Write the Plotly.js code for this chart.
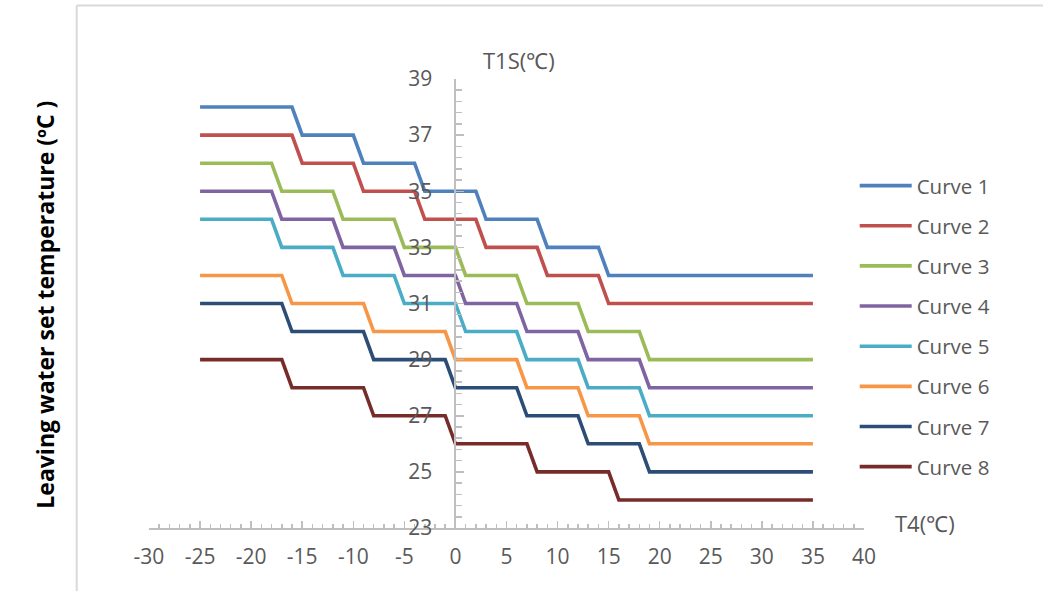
<!DOCTYPE html>
<html>
<head>
<meta charset="utf-8">
<script src="https://cdn.plot.ly/plotly-3.0.1.min.js"></script>
<style>html,body{margin:0;padding:0;background:#fff;}#chart{width:1043px;height:591px;}</style>
</head>
<body>
<div id="chart"></div>
<script>
// ---- data ----
const curveNames = ["Curve 1","Curve 2","Curve 3","Curve 4","Curve 5","Curve 6","Curve 7","Curve 8"];
const curveColors = ["#4F81BD","#C0504D","#9BBB59","#8064A2","#4BACC6","#F79646","#2C4D75","#772C2A"];

const x1 = [-25,-16,-15,-10,-9,-4,-3,2,3,8,9,14,15,35];
const y1 = [38,38,37,37,36,36,35,35,34,34,33,33,32,32];
const x2 = [-25,-16,-15,-10,-9,-4,-3,2,3,8,9,14,15,35];
const y2 = [37,37,36,36,35,35,34,34,33,33,32,32,31,31];
const x3 = [-25,-18,-17,-12,-11,-6,-5,0,1,6,7,12,13,18,19,35];
const y3 = [36,36,35,35,34,34,33,33,32,32,31,31,30,30,29,29];
const x4 = [-25,-18,-17,-12,-11,-6,-5,0,1,6,7,12,13,18,19,35];
const y4 = [35,35,34,34,33,33,32,32,31,31,30,30,29,29,28,28];
const x5 = [-25,-18,-17,-12,-11,-6,-5,0,1,6,7,12,13,18,19,35];
const y5 = [34,34,33,33,32,32,31,31,30,30,29,29,28,28,27,27];
const x6 = [-25,-17,-16,-9,-8,-1,0,6,7,12,13,18,19,35];
const y6 = [32,32,31,31,30,30,29,29,28,28,27,27,26,26];
const x7 = [-25,-17,-16,-9,-8,-1,0,6,7,12,13,18,19,35];
const y7 = [31,31,30,30,29,29,28,28,27,27,26,26,25,25];
const x8 = [-25,-17,-16,-9,-8,-1,0,7,8,15,16,35];
const y8 = [29,29,28,28,27,27,26,26,25,25,24,24];

const xTickVals = [-30,-25,-20,-15,-10,-5,0,5,10,15,20,25,30,35,40];
const xTickText = ["-30","-25","-20","-15","-10","-5","0","5","10","15","20","25","30","35","40"];
const yTickVals = [23,25,27,29,31,33,35,37,39];
const yTickText = ["23","25","27","29","31","33","35","37","39"];

const xTitle = "T4(℃)";
const yTitleTop = "T1S(℃)";
const sideTitle = "Leaving water set temperature (ºC )";

// ---- build traces ----
const xs = [x1,x2,x3,x4,x5,x6,x7,x8];
const ys = [y1,y2,y3,y4,y5,y6,y7,y8];
const traces = curveNames.map((n,i)=>({
  type:'scatter', mode:'lines', name:n, x:xs[i], y:ys[i],
  legendgroup:n,
  line:{color:curveColors[i], width:3.6},
  hoverinfo:'x+y+name'
}));

const FONT = "'Open Sans', 'Liberation Sans', sans-serif";
const axisCol = "#BFBFBF";
const txtCol = "#595959";

const layout = {
  width:1043, height:591,
  margin:{l:149.3, r:178.7, t:79.3, b:63.3, pad:0},
  paper_bgcolor:'#fff', plot_bgcolor:'#fff',
  font:{family:FONT, size:21, color:txtCol},
  showlegend:true,
  legend:{x:0.987, xanchor:'left', y:0.8067, yanchor:'top',
          font:{family:FONT, size:20.5, color:txtCol},
          tracegroupgap:10.5, itemwidth:52, bgcolor:'rgba(0,0,0,0)'},
  xaxis:{
    range:[-30,40], tickvals:xTickVals, ticktext:xTickText, showgrid:false, zeroline:false,
    showline:true, linecolor:axisCol, linewidth:2,
    ticks:'inside', ticklen:7, tickwidth:1.5, tickcolor:axisCol,
    minor:{dtick:1, ticks:'inside', ticklen:4, tickwidth:1.5, tickcolor:axisCol, showgrid:false},
    ticklabelstandoff:9,
    tickfont:{family:FONT, size:21, color:txtCol},
    fixedrange:true
  },
  yaxis:{
    range:[23,39], tickvals:yTickVals, ticktext:yTickText, showgrid:false, zeroline:false,
    anchor:'free', position:30/70,
    showline:true, linecolor:axisCol, linewidth:2,
    ticks:'inside', ticklen:8, tickwidth:1.5, tickcolor:axisCol,
    minor:{tick0:23, dtick:0.4, ticks:'inside', ticklen:6, tickwidth:1.5, tickcolor:axisCol, showgrid:false},
    ticklabelstandoff:18,
    tickfont:{family:FONT, size:21, color:txtCol},
    fixedrange:true
  },
  shapes:[
    {type:'line', xref:'paper', yref:'paper', x0:(77-149.3)/715, x1:(77-149.3)/715, y0:(527.7-6)/448.4, y1:-0.2, line:{color:'#D9D9D9', width:2}},
    {type:'line', xref:'paper', yref:'paper', x0:(77-149.3)/715, x1:1.3, y0:(527.7-6)/448.4, y1:(527.7-6)/448.4, line:{color:'#D9D9D9', width:2}}
  ],
  annotations:[
    {text:yTitleTop, xref:'paper', yref:'paper', x:(519-149.3)/715, y:(527.7-60)/448.4, xanchor:'center', yanchor:'middle', showarrow:false, font:{family:FONT, size:22, color:txtCol}},
    {text:xTitle, xref:'paper', yref:'paper', x:(925-149.3)/715, y:(527.7-523)/448.4, xanchor:'center', yanchor:'middle', showarrow:false, font:{family:FONT, size:22, color:txtCol}},
    {text:'<b>'+sideTitle+'</b>', xref:'paper', yref:'paper', x:(45-149.3)/715, y:(527.7-305)/448.4, xanchor:'center', yanchor:'middle', textangle:-90, showarrow:false, font:{family:FONT, size:23, color:'#000'}}
  ]
};

Plotly.newPlot('chart', traces, layout, {displayModeBar:false, staticPlot:true});
</script>
</body>
</html>
